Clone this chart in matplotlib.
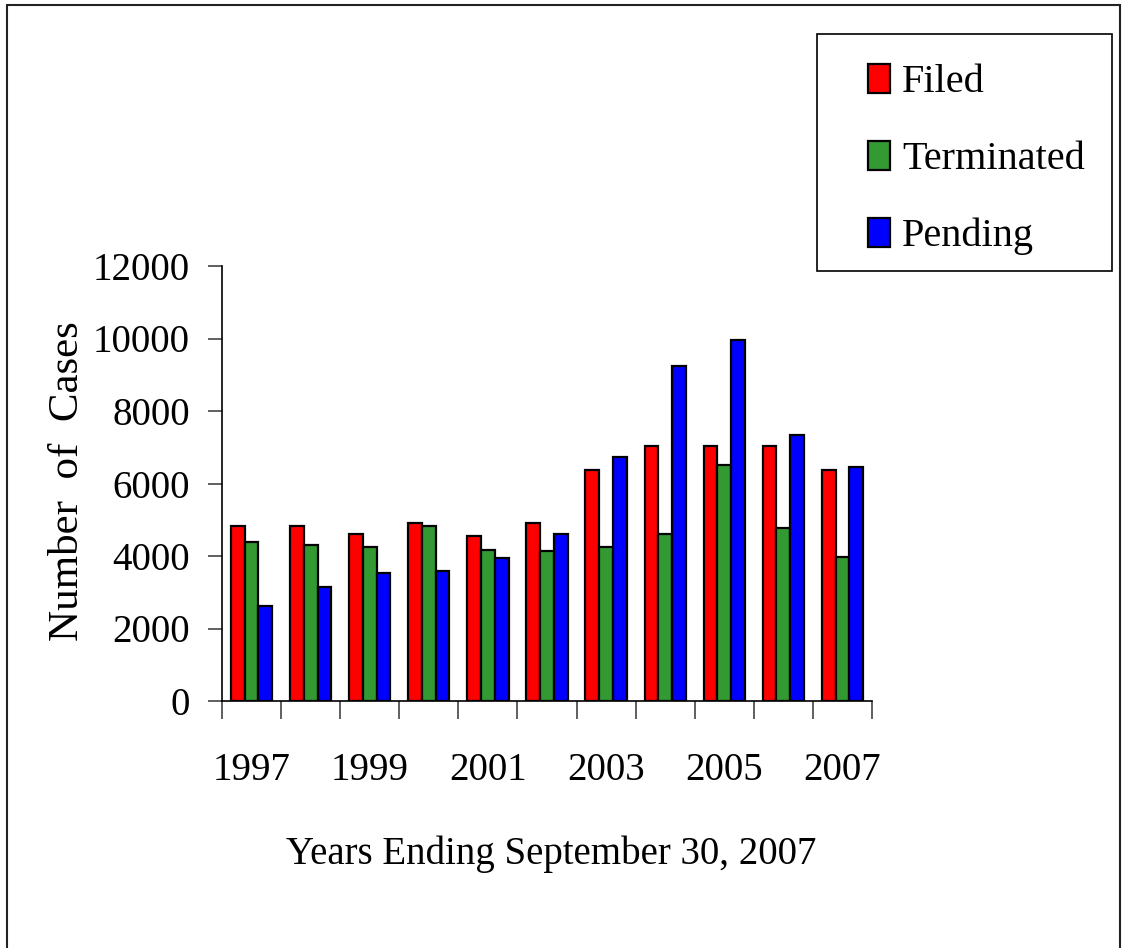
import numpy as np
import matplotlib
matplotlib.use('Agg')
import matplotlib.pyplot as plt
from matplotlib.patches import Rectangle

# Case counts per fiscal year
years = [1997, 1998, 1999, 2000, 2001, 2002, 2003, 2004, 2005, 2006, 2007]
filed = [4830, 4830, 4610, 4900, 4540, 4900, 6370, 7030, 7030, 7030, 6370]
terminated = [4390, 4310, 4240, 4830, 4170, 4150, 4240, 4610, 6520, 4760, 3970]
pending = [2630, 3140, 3530, 3580, 3950, 4610, 6740, 9240, 9970, 7330, 6450]

series_names = ['Filed', 'Terminated', 'Pending']
series_colors = ['#ff0000', '#339933', '#0000ff']
y_ticks = [0, 2000, 4000, 6000, 8000, 10000, 12000]

plt.rcParams['font.family'] = ['Liberation Serif', 'DejaVu Serif']

W, H = 1123, 948
fig = plt.figure(figsize=(W / 100, H / 100), dpi=100)
ax = fig.add_axes([222 / W, 1 - 701 / H, 650 / W, 435 / H])

x = np.arange(len(years))
width = 0.233
for i, (vals, name, col) in enumerate(zip([filed, terminated, pending],
                                         series_names, series_colors)):
    ax.bar(x + (i - 1) * width, vals, width, color=col, edgecolor='black',
           linewidth=1.6, label=name, zorder=3)

ax.set_xlim(-0.5, len(years) - 0.5)
ax.set_ylim(0, 12000)
ax.set_yticks(y_ticks)
ax.set_yticklabels([str(v) for v in y_ticks])

# category separators as major ticks, year labels on every other category
ax.set_xticks(np.arange(-0.5, len(years), 1.0))
ax.set_xticklabels([])
ax.set_xticks(x[::2], minor=True)
ax.set_xticklabels([str(y) for y in years[::2]], minor=True)
ax.tick_params(axis='x', which='major', direction='out', length=13, width=1.2,
               color='#444444')
ax.tick_params(axis='x', which='minor', length=0, pad=37, labelsize=28)
ax.tick_params(axis='y', direction='out', length=10, width=1.2, color='#444444',
               pad=13, labelsize=28)

for side in ['top', 'right']:
    ax.spines[side].set_visible(False)
ax.spines['left'].set_linewidth(1.2)
ax.spines['bottom'].set_linewidth(1.2)

fig.text(551 / W, 1 - 864 / H, 'Years Ending September 30, 2007',
         ha='center', va='baseline', fontsize=28)
fig.text(68 / W, 1 - 481 / H, 'Number  of  Cases', rotation=90,
         ha='center', va='center', fontsize=31)

# legend: frameless entries plus a drawn box, so the padding can differ
leg = fig.legend(loc='upper left', bbox_to_anchor=(868 / W, 1 - 64 / H),
                 frameon=False, fontsize=29, handlelength=0.55,
                 handleheight=0.72, handletextpad=0.3, labelspacing=0.98,
                 borderpad=0, borderaxespad=0)
fig.patches.append(Rectangle((817 / W, 1 - 271 / H), 295 / W, 237 / H,
                             transform=fig.transFigure, fill=False,
                             edgecolor='black', linewidth=1.2))

# outer chart border
fig.patches.append(Rectangle((7 / W, -0.05), 1113 / W, 1.05 - 5 / H,
                             transform=fig.transFigure, fill=False,
                             edgecolor='#222222', linewidth=1.5))

fig.savefig('out.png', dpi=100, facecolor='white')
